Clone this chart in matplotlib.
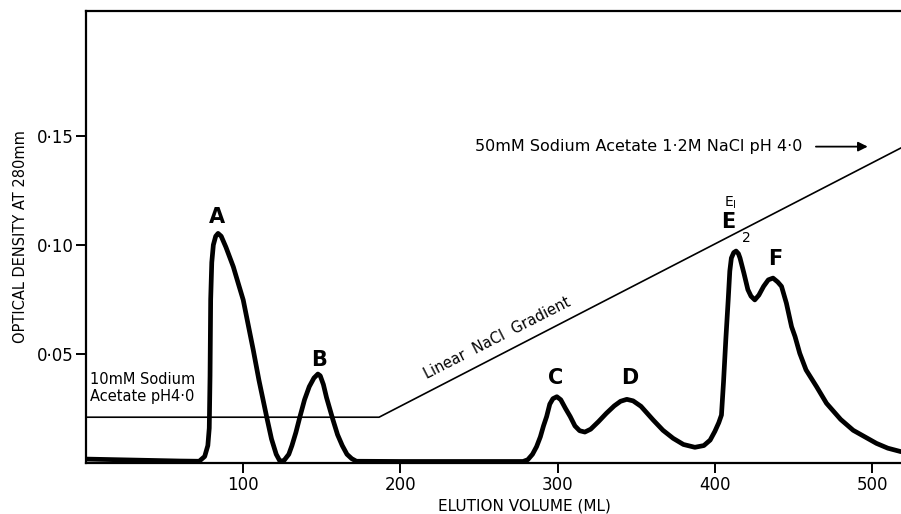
import matplotlib
matplotlib.use("Agg")
import matplotlib.pyplot as plt
import numpy as np

# elution profile
volume_ml = [0, 20, 40, 60, 72, 75.5, 77.5, 78.4, 78.9, 79.3, 80, 81, 82.5, 84, 86,
             89, 93.7, 97, 100, 103, 106.4, 110, 114.9, 118, 121, 123.4, 126, 129,
             131, 133.5, 136, 139, 142, 145, 147.5, 149, 151, 153, 155, 157, 160,
             163, 166, 169, 172, 200, 240, 278, 281, 284, 286.6, 289, 291, 293,
             295, 297, 299.5, 302, 305, 308, 311, 314, 317.3, 321, 326, 331, 336,
             340, 344, 348, 353, 360.8, 367, 373.5, 380, 387.3, 393, 397, 400,
             402.5, 404.2, 405.5, 407, 408.5, 409.5, 410.5, 412, 413.5, 415, 416,
             418.5, 421, 423, 425.4, 428, 431, 434, 437, 440, 442.4, 445.5, 448.8,
             451, 454, 458, 464.7, 471, 480, 488, 502.8, 510, 518.4]
optical_density = [0.0018, 0.0015, 0.0012, 0.0009, 0.0008, 0.003, 0.008, 0.016, 0.04,
                   0.075, 0.092, 0.100, 0.104, 0.1053, 0.104, 0.099, 0.090, 0.082,
                   0.0748, 0.064, 0.0518, 0.038, 0.0212, 0.011, 0.004, 0.0008, 0.0012,
                   0.004, 0.008, 0.014, 0.021, 0.029, 0.035, 0.039, 0.0408, 0.040,
                   0.036, 0.030, 0.025, 0.020, 0.013, 0.008, 0.004, 0.002, 0.0008,
                   0.0007, 0.0007, 0.0007, 0.0015, 0.004, 0.0075, 0.012, 0.017,
                   0.0213, 0.027, 0.0295, 0.0304, 0.029, 0.025, 0.0213, 0.017, 0.0148,
                   0.0142, 0.0155, 0.019, 0.0228, 0.0262, 0.0283, 0.0292, 0.0285,
                   0.026, 0.0197, 0.015, 0.0113, 0.0085, 0.0072, 0.008, 0.0105,
                   0.0145, 0.0185, 0.022, 0.037, 0.057, 0.075, 0.088, 0.094, 0.0965,
                   0.0972, 0.096, 0.094, 0.087, 0.0795, 0.0765, 0.0748, 0.077, 0.081,
                   0.084, 0.0848, 0.083, 0.081, 0.0733, 0.0625, 0.058, 0.0503, 0.0427,
                   0.035, 0.0274, 0.020, 0.015, 0.009, 0.0068, 0.0052]

# salt gradient (drawn on the same OD scale as in the original)
gradient_ml = [0, 186.4, 518.4]
gradient_level = [0.021, 0.021, 0.1445]

peak_names = ["A", "B", "C", "D", "E", "F"]
peak_ml = [83.4, 148.4, 298.4, 346, 408.5, 438.3]
peak_od = [0.113, 0.0472, 0.0389, 0.0389, 0.1107, 0.0934]

x_ticks = [100, 200, 300, 400, 500]
y_ticks = [0.05, 0.10, 0.15]
y_tick_labels = ["0·05", "0·10", "0·15"]

plt.rcParams["font.family"] = ["DejaVu Sans"]

fig = plt.figure(figsize=(9.01, 5.14), dpi=100)
ax = fig.add_axes([86 / 901, 51 / 514, 815 / 901, 452 / 514])

ax.plot(gradient_ml, gradient_level, color="black", lw=1.2, zorder=2)
ax.plot(volume_ml, optical_density, color="black", lw=3.4,
        solid_joinstyle="round", solid_capstyle="round", zorder=3)

for name, xm, ym in zip(peak_names, peak_ml, peak_od):
    ax.text(xm, ym, name, ha="center", va="center", fontsize=15, fontweight="bold")
# E1 / E2 sub-labels
ax.text(409.6, 0.1195, r"E$_{\mathregular{I}}$", ha="center", va="center", fontsize=10)
ax.text(420.3, 0.103, "2", ha="center", va="center", fontsize=10)

ax.text(2.6, 0.0345, "10mM Sodium\nAcetate pH4·0", ha="left", va="center",
        fontsize=10.5, linespacing=1.15)
ax.text(261.4, 0.0573, "Linear  NaCl  Gradient", ha="center", va="center",
        fontsize=10.5, rotation=27, rotation_mode="anchor")
ax.text(247.5, 0.1451, "50mM Sodium Acetate 1·2M NaCl pH 4·0", ha="left",
        va="center", fontsize=11.5)
ax.annotate("", xy=(499, 0.1451), xytext=(462.5, 0.1451),
            arrowprops=dict(arrowstyle="-|>", color="black", lw=1.3,
                            mutation_scale=14))

ax.set_xlim(0, 518.4)
ax.set_ylim(0, 0.2073)
ax.set_xticks(x_ticks)
ax.set_yticks(y_ticks)
ax.set_yticklabels(y_tick_labels)
ax.tick_params(axis="both", direction="out", length=7, width=1.4,
               labelsize=12, pad=2)
for side in ["left", "top", "bottom"]:
    ax.spines[side].set_linewidth(1.6)
ax.spines["right"].set_visible(False)

ax.set_ylabel("OPTICAL DENSITY AT 280mm", fontsize=10.5, labelpad=6)
ax.set_xlabel("ELUTION VOLUME (ML)", fontsize=11)
ax.xaxis.set_label_coords((524 - 86) / 815, -0.078)

fig.savefig("out.png", dpi=100)
